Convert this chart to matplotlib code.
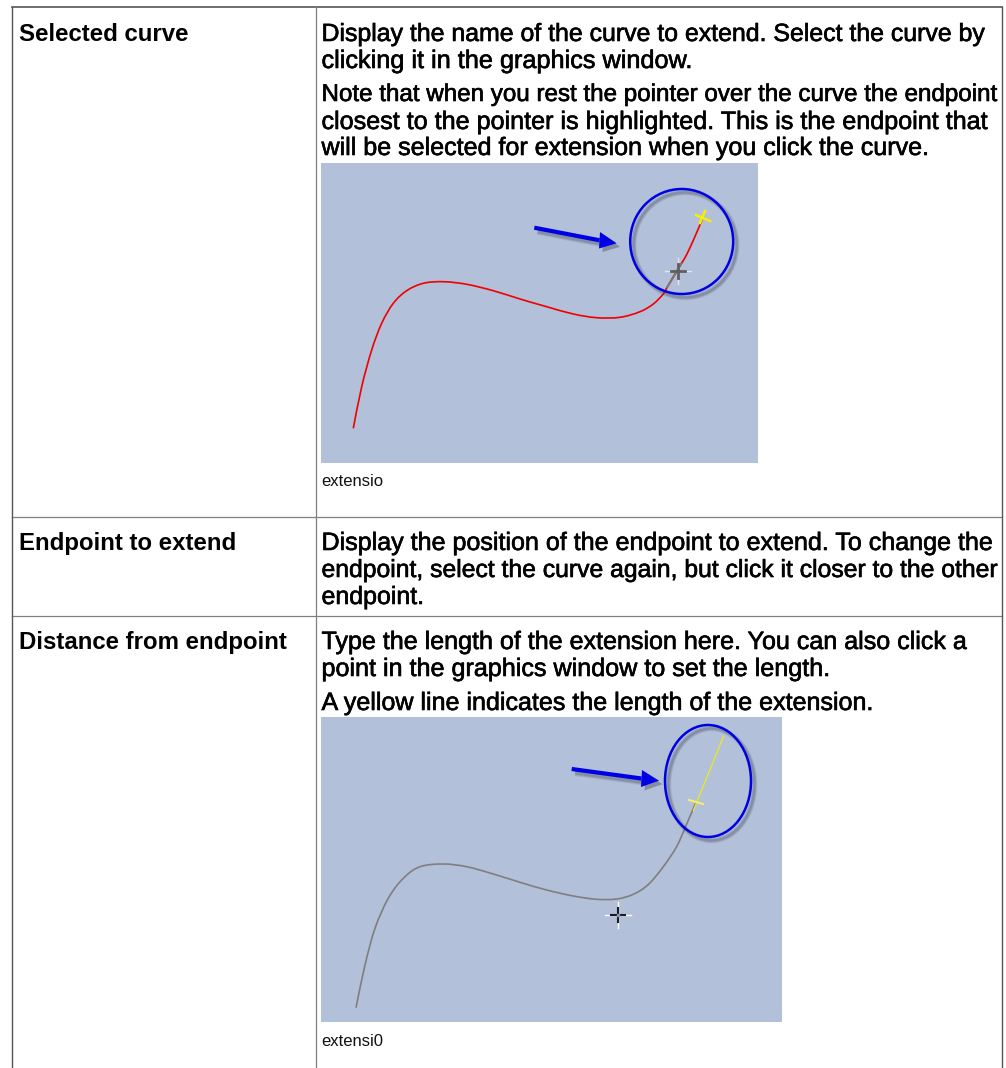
import matplotlib
matplotlib.use('Agg')
import matplotlib.pyplot as plt
import matplotlib.patheffects as pe
from matplotlib.patches import Ellipse, PathPatch, Polygon, Rectangle
from matplotlib.path import Path

#everything is placed in reference pixels, y grows downwards
plt.rcParams['font.family'] = ['Liberation Sans', 'DejaVu Sans']

#table text
row_titles = ['Selected curve', 'Endpoint to extend', 'Distance from endpoint']
row_title_y = [41, 550, 649]
body_lines = ['Display the name of the curve to extend. Select the curve by',
              'clicking it in the graphics window.',
              'Note that when you rest the pointer over the curve the endpoint',
              'closest to the pointer is highlighted. This is the endpoint that',
              'will be selected for extension when you click the curve.',
              'Display the position of the endpoint to extend. To change the',
              'endpoint, select the curve again, but click it closer to the other',
              'endpoint.',
              'Type the length of the extension here. You can also click a',
              'point in the graphics window to set the length.',
              'A yellow line indicates the length of the extension.']
body_y = [41, 68, 101, 129, 155, 550, 577, 604, 649, 676, 710]
#the source squeezes some lines, so each one gets its own size to end at the same place
body_size = [17.9, 18.2, 17.4, 18.1, 18.05, 18.05, 17.8, 17.95, 18.05, 18.1, 18.05]
captions = ['extensio', 'extensi0']
caption_y = [486, 1046]

#table rules
rule_y = [7, 517, 616]
col_x = [12, 316, 1002]

#first screenshot
shot1_box = (321, 163, 437, 300)
curve1_x = [353.3, 361.7, 371.7, 381.7, 393.3, 406.7, 423.3, 443.3, 466.7, 493.3, 520, 546.7,
            573.3, 596.7, 620, 640, 653.3, 663.3, 666.7, 673.3, 681.7, 686.7, 695, 702.7]
curve1_y = [428.3, 386.7, 350, 323.3, 303.3, 290.7, 283.3, 281.7, 284.3, 290.7, 299, 306.7,
            314, 317.7, 317.3, 311.7, 304, 294, 288, 277, 263, 254.5, 236.5, 218.3]
grey1_x = [666.7, 673.3, 681.7]
grey1_y = [288, 277, 263]
ring1 = (681.7, 241.5, 103, 105)
arrow1_tail = (534.3, 227.7)
arrow1_tip = (616.7, 243.3)
arrow1_head = [(600, 232), (599, 248.5)]
mark1 = (703, 218)
pointer1 = (678.3, 271)

#second screenshot
shot2_box = (321, 717, 461, 305)
curve2_x = [356, 365, 375, 388.3, 403.3, 420, 443.3, 466.7, 493.3, 520, 546.7, 573.3, 596.7,
            616.7, 633.3, 648.3, 663.3, 676.7, 686.7, 696]
curve2_y = [1007.7, 965, 928.3, 898.3, 878.3, 866.7, 864, 866.7, 874, 882.3, 890, 896, 899.3,
            899, 894.3, 884.5, 866.7, 846.5, 824, 802.3]
yellow_x = [693.3, 723.7]
yellow_y = [810.7, 736]
ring2 = (708, 781, 86, 112)
arrow2_tail = (571.7, 769)
arrow2_tip = (659, 780.7)
arrow2_head = [(642, 770), (641, 787)]
mark2 = (696, 802)
pointer2 = (618.3, 915)

BLUE = '#0000e6'
SHOT = '#b3c0da'

def soft_shadow(width, offset):
    #a few wide faint strokes stand in for the blurred drop shadow
    effects = []
    for extra, alpha in [(2.4, 0.10), (1.2, 0.14), (0, 0.2)]:
        effects.append(pe.SimpleLineShadow(offset=(offset, -offset), shadow_color='#3c4250', alpha=alpha,
                                           linewidth=width + extra))
    effects.append(pe.Normal())
    return effects

def smooth_path(xs, ys):
    #bezier handles through the read points so the curve has no corners
    pts = list(zip(xs, ys))
    verts = [pts[0]]
    codes = [Path.MOVETO]
    for i in range(len(pts) - 1):
        p0 = pts[max(i - 1, 0)]
        p1 = pts[i]
        p2 = pts[i + 1]
        p3 = pts[min(i + 2, len(pts) - 1)]
        verts.append((p1[0] + (p2[0] - p0[0]) / 6, p1[1] + (p2[1] - p0[1]) / 6))
        verts.append((p2[0] - (p3[0] - p1[0]) / 6, p2[1] - (p3[1] - p1[1]) / 6))
        verts.append(p2)
        codes += [Path.CURVE4, Path.CURVE4, Path.CURVE4]
    return Path(verts, codes)

def draw_curve(ax, xs, ys, color, width=1.2):
    ax.add_patch(PathPatch(smooth_path(xs, ys), fill=False, edgecolor=color, linewidth=width,
                           capstyle='butt', zorder=3))

def draw_ring(ax, ring):
    ax.add_patch(Ellipse(ring[:2], ring[2], ring[3], fill=False, edgecolor=BLUE, linewidth=1.8,
                         path_effects=soft_shadow(1.8, 2.5), zorder=4))

def draw_arrow(ax, tail, tip, head):
    ax.plot([tail[0], (head[0][0] + head[1][0]) / 2], [tail[1], (head[0][1] + head[1][1]) / 2],
            color=BLUE, linewidth=3, solid_capstyle='butt', path_effects=soft_shadow(3, 2.5), zorder=4)
    ax.add_patch(Polygon([tip, head[0], head[1]], closed=True, facecolor=BLUE, edgecolor='none',
                         path_effects=[pe.SimplePatchShadow(offset=(2.5, -2.5), shadow_rgbFace='#3c4250', alpha=0.4),
                                       pe.Normal()], zorder=4))

def draw_pointer(ax, pos, arm, dark, width, white_alpha):
    x, y = pos
    ax.plot([x - arm, x + arm], [y, y], color='white', linewidth=1, alpha=white_alpha, zorder=5)
    ax.plot([x, x], [y - arm, y + arm], color='white', linewidth=1, alpha=white_alpha, zorder=5)
    ax.plot([x - 7, x + 7], [y, y], color=dark, linewidth=width, zorder=6)
    ax.plot([x, x], [y - 7, y + 7], color=dark, linewidth=width, zorder=6)

fig = plt.figure(figsize=(10.06, 10.68), dpi=100)
ax = fig.add_axes([0, 0, 1, 1])
ax.set_xlim(0, 1006)
ax.set_ylim(1068, 0)
ax.axis('off')

#table
ax.plot([col_x[0], col_x[2]], [rule_y[0], rule_y[0]], color='#555555', linewidth=1.2)
for y in rule_y[1:]:
    ax.plot([col_x[0], col_x[2]], [y, y], color='#808080', linewidth=0.9)
ax.plot([col_x[0], col_x[0]], [rule_y[0], 1068], color='#555555', linewidth=1)
ax.plot([col_x[1], col_x[1]], [rule_y[0], 1068], color='#808080', linewidth=0.9)
ax.plot([col_x[2], col_x[2]], [rule_y[0], 1068], color='#555555', linewidth=1)

for title, y in zip(row_titles, row_title_y):
    ax.text(19, y, title, fontsize=17.3, fontweight='bold', color='black', va='baseline', ha='left')
#body is a regular face thickened a little, the source has a heavier look
for line, y, size in zip(body_lines, body_y, body_size):
    ax.text(321.5, y, line, fontsize=size, color='black', va='baseline', ha='left',
            path_effects=[pe.withStroke(linewidth=0.45, foreground='black')])
for cap, y in zip(captions, caption_y):
    ax.text(321, y, cap, fontsize=12, color='#111111', va='baseline', ha='left')

#first screenshot
ax.add_patch(Rectangle(shot1_box[:2], shot1_box[2], shot1_box[3], facecolor=SHOT, edgecolor='none', zorder=2))
draw_curve(ax, curve1_x, curve1_y, '#f00000')
draw_curve(ax, grey1_x, grey1_y, '#777777', 1.4)
ax.plot([mark1[0] - 7, mark1[0] + 7], [mark1[1] - 3, mark1[1] + 3], color='#f5f000', linewidth=1.8, zorder=5)
ax.plot([mark1[0] - 3, mark1[0] + 2], [mark1[1] + 5, mark1[1] - 7], color='#f5f000', linewidth=1.8, zorder=5)
draw_ring(ax, ring1)
draw_arrow(ax, arrow1_tail, arrow1_tip, arrow1_head)
draw_pointer(ax, pointer1, 13, '#5f5f5f', 2, 0.6)

#second screenshot
ax.add_patch(Rectangle(shot2_box[:2], shot2_box[2], shot2_box[3], facecolor=SHOT, edgecolor='none', zorder=2))
draw_curve(ax, curve2_x, curve2_y, '#7f7f7f')
ax.plot(yellow_x, yellow_y, color='#f0f000', linewidth=0.8, zorder=4)
ax.plot([mark2[0] - 7, mark2[0] + 7], [mark2[1] - 2, mark2[1] + 2], color='#f5f06a', linewidth=1.5, zorder=5)
draw_ring(ax, ring2)
draw_arrow(ax, arrow2_tail, arrow2_tip, arrow2_head)
draw_pointer(ax, pointer2, 13, '#1a1a2a', 1.5, 1)
ax.plot([pointer2[0]], [pointer2[1]], marker='s', markersize=1.5, color='#8a94a8', zorder=7)

plt.savefig('out.png', dpi=100, facecolor='white')
